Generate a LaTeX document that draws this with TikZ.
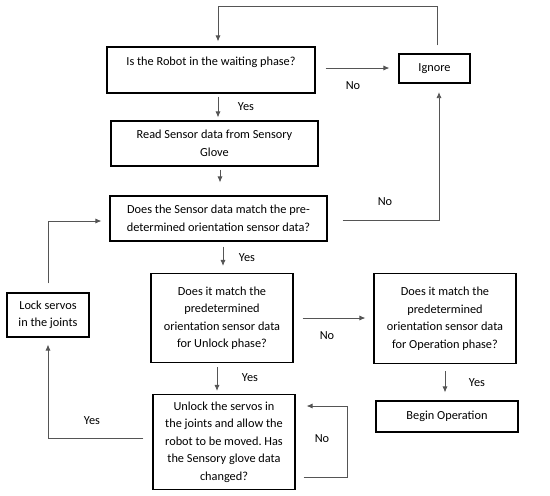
\documentclass[tikz,border=0pt]{standalone}
\usepackage{fontspec}
\setmainfont{Carlito}
\frenchspacing
\usetikzlibrary{arrows.meta}
\definecolor{linkgray}{RGB}{85,85,85}
\newcommand{\flowbox}[6]{%
  \node[box,minimum width=#4pt,minimum height=#5pt] (#1) at (#2,#3) {#6};
}
\newcommand{\flowlabel}[4]{%
  \node[lbl] (#1) at (#2,#3) {#4};
}

\begin{document}
\begin{tikzpicture}[x=1pt,y=-1pt,
    box/.style={draw,line width=1.1pt,align=center,inner sep=0pt,
      font=\fontsize{12.3}{17.5}\selectfont},
    lbl/.style={inner sep=0pt,font=\fontsize{12.3}{14}\selectfont},
    link/.style={draw=linkgray,line width=0.8pt,-{Latex[length=6pt,width=5pt]},
      shorten <=3pt,shorten >=3pt}]
  \useasboundingbox (0,0) rectangle (550,496);
  % --- Boxes ---
  \flowbox{waiting}{211}{70}{208}{46}{Is the Robot in the waiting phase?\\\mbox{}}
  \flowbox{ignore}{434.5}{68.5}{71}{29}{Ignore}
  \flowbox{read}{214.5}{143.5}{207}{45}{Read Sensor data from Sensory\\Glove}
  \flowbox{match}{218.5}{218.5}{217}{45}{Does the Sensor data match the pre-\\determined orientation sensor data?}
  \flowbox{unlockq}{222}{318}{142}{89}{Does it match the\\predetermined\\orientation sensor data\\for Unlock phase?}
  \flowbox{operq}{445}{318.5}{142}{90}{Does it match the\\predetermined\\orientation sensor data\\for Operation phase?}
  \flowbox{lock}{48}{315}{82}{44}{Lock servos\\in the joints}
  \flowbox{unlock}{224}{442}{142}{95}{Unlock the servos in\\the joints and allow the\\robot to be moved. Has\\the Sensory glove data\\changed?}
  \flowbox{begin}{447}{416.5}{142}{31}{Begin Operation}
  % --- Connectors ---
  \draw[link] ([xshift=7pt]waiting.south) -- ([xshift=7pt]waiting.south |- read.north);
  \draw[link,shorten <=10pt,shorten >=9pt] ([yshift=2pt]waiting.east) -- ([yshift=2pt]waiting.east -| ignore.west);
  \draw[link,shorten <=8pt,shorten >=5pt] ([xshift=2.5pt]ignore.north) -- ++(0,-47) -| ([xshift=7pt]waiting.north);
  \draw[link,shorten >=13pt] ([xshift=5.5pt]read.south) -- ([xshift=5.5pt]read.south |- match.north);
  \draw[link,shorten <=15pt,shorten >=8.5pt] ([yshift=-1.5pt]match.east) -| ([xshift=4.5pt]ignore.south);
  \draw[link,shorten <=5pt,shorten >=7pt] ([xshift=4.5pt]match.south) -- ([xshift=4.5pt]match.south |- unlockq.north);
  \draw[link,shorten <=9pt,shorten >=8pt] (unlockq.east) -- (unlockq.east -| operq.west);
  \draw[link,shorten <=4pt] ([xshift=-5pt]unlockq.south) -- ([xshift=-5pt]unlockq.south |- unlock.north);
  \draw[link,shorten <=7pt,shorten >=8pt] (operq.south) -- (operq.south |- begin.north);
  \draw[link,shorten <=9pt,shorten >=7pt] ([yshift=4pt]unlock.west) -| (lock.south);
  \draw[link,shorten <=9pt,shorten >=8pt] (lock.north) |- ([yshift=-2.5pt]match.west);
  \draw[link,shorten <=8pt,shorten >=11pt] ([yshift=-35pt]unlock.east) -- ++(52,0) |- ([yshift=36pt]unlock.east);
  % --- Labels ---
  \flowlabel{yesA}{246}{107}{Yes}
  \flowlabel{noA}{353}{86}{No}
  \flowlabel{noB}{385}{202}{No}
  \flowlabel{yesB}{247}{258}{Yes}
  \flowlabel{noC}{327}{336}{No}
  \flowlabel{yesC}{250}{378}{Yes}
  \flowlabel{yesD}{477}{383}{Yes}
  \flowlabel{yesE}{92}{421}{Yes}
  \flowlabel{noD}{322}{439}{No}
\end{tikzpicture}
\end{document}
